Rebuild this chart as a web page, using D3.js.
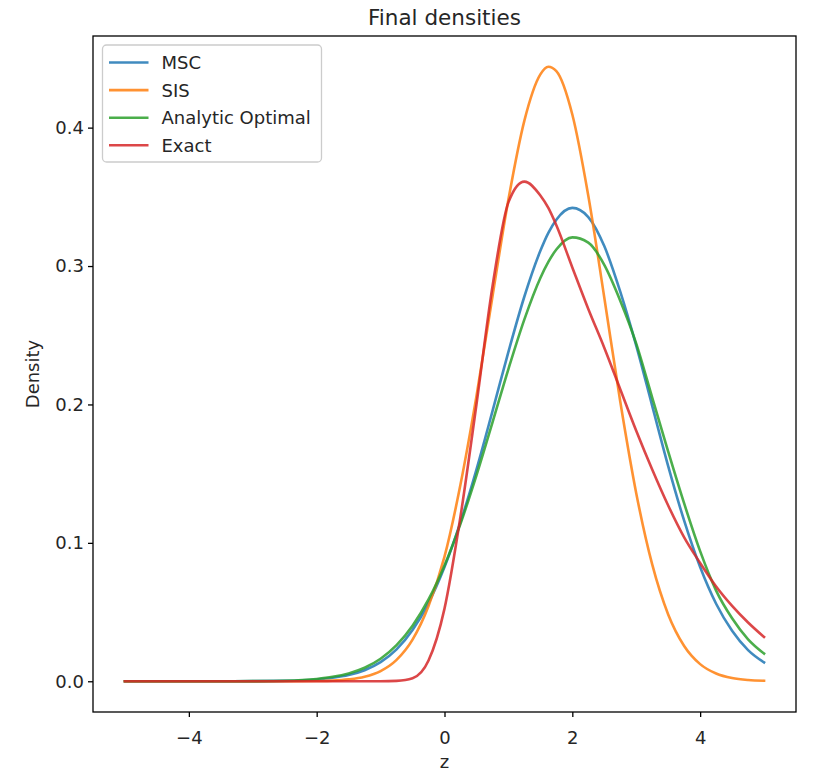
<!DOCTYPE html>
<html>
<head>
<meta charset="utf-8">
<script src="https://cdn.jsdelivr.net/npm/d3@7/dist/d3.min.js"></script>
<style>
  html, body { margin: 0; padding: 0; background: #ffffff; }
  svg { display: block; font-family: "DejaVu Sans", sans-serif; }
</style>
</head>
<body>
<svg id="chart" width="813" height="773"></svg>
<script>
// Evaluation grid (z) shared by every density curve
const zGrid = [-5, -4.5, -4, -3.5, -3, -2.5, -2, -1.75, -1.5, -1.25, -1, -0.75, -0.5, -0.25,
  0, 0.25, 0.5, 0.75, 1, 1.25, 1.5, 1.625, 1.75, 2, 2.25, 2.5, 2.75, 3, 3.25, 3.5, 3.75,
  4, 4.25, 4.5, 4.75, 5];

const mscDensity = [0, 0, 0, 0, 0.0001, 0.0003, 0.0013, 0.0025, 0.0045, 0.0080, 0.0138, 0.0230, 0.0370, 0.0565,
  0.0825, 0.1150, 0.1530, 0.1950, 0.2380, 0.2780, 0.3110, 0.3240, 0.3335, 0.3420, 0.3354, 0.3144, 0.2815,
  0.2425, 0.1990, 0.1555, 0.1160, 0.0825, 0.0560, 0.0365, 0.0225, 0.0136];

const sisDensity = [0, 0, 0, 0, 0, 0, 0.0002, 0.0005, 0.0014, 0.0033, 0.0074, 0.0155, 0.0301, 0.0544,
  0.0900, 0.1421, 0.2060, 0.2778, 0.3480, 0.4051, 0.4385, 0.4440, 0.4409, 0.4095, 0.3508, 0.2773, 0.2021,
  0.1359, 0.0844, 0.0483, 0.0255, 0.0124, 0.0056, 0.0023, 0.0009, 0.0004];

const optimalDensity = [0, 0, 0, 0, 0.0001, 0.0004, 0.0017, 0.0032, 0.0057, 0.0098, 0.0163, 0.0261, 0.0401, 0.0591,
  0.0837, 0.1138, 0.1488, 0.1869, 0.2256, 0.2615, 0.2914, 0.3030, 0.3119, 0.3207, 0.3169, 0.3009, 0.2750,
  0.2440, 0.2050, 0.1660, 0.1285, 0.0940, 0.0655, 0.0455, 0.0303, 0.0200];

const exactDensity = [0, 0, 0, 0, 0, 0, 0, 0, 0, 0, 0, 0.0003, 0.0022, 0.0150,
  0.0525, 0.1190, 0.2000, 0.2850, 0.3460, 0.3610, 0.3510, 0.3420, 0.3295, 0.2990, 0.2690, 0.2410, 0.2110,
  0.1810, 0.1530, 0.1270, 0.1040, 0.0855, 0.0685, 0.0545, 0.0425, 0.0320];

const seriesNames = ["MSC", "SIS", "Analytic Optimal", "Exact"];
const seriesColors = ["#1f77b4", "#ff7f0e", "#2ca02c", "#d62728"];
const seriesValues = [mscDensity, sisDensity, optimalDensity, exactDensity];

const xTicks = [-4, -2, 0, 2, 4];
const yTicks = [0.0, 0.1, 0.2, 0.3, 0.4];

// ---- layout ----
const svg = d3.select("#chart");
const W = 813, H = 773;
const plot = { left: 93, right: 796, top: 36, bottom: 712 };
const fontSize = 18;
const tickLen = 5;
const spineW = 1.3;

svg.append("rect").attr("width", W).attr("height", H).attr("fill", "#ffffff");

// axis limits with 5% padding on each side
const xExt = d3.extent(zGrid);
const xPad = (xExt[1] - xExt[0]) * 0.05;
const yMin = d3.min(seriesValues, s => d3.min(s));
const yMax = d3.max(seriesValues, s => d3.max(s));
const yPad = (yMax - yMin) * 0.05;

const x = d3.scaleLinear().domain([xExt[0] - xPad, xExt[1] + xPad]).range([plot.left, plot.right]);
const y = d3.scaleLinear().domain([yMin - yPad, yMax + yPad]).range([plot.bottom, plot.top]);

// curves
const line = d3.line()
  .x(d => x(d[0]))
  .y(d => y(d[1]))
  .curve(d3.curveMonotoneX);

const curves = svg.append("g");
seriesValues.forEach((vals, i) => {
  curves.append("path")
    .datum(zGrid.map((z, j) => [z, vals[j]]))
    .attr("fill", "none")
    .attr("stroke", seriesColors[i])
    .attr("stroke-opacity", 0.85)
    .attr("stroke-width", 2.6)
    .attr("stroke-linejoin", "round")
    .attr("stroke-linecap", "square")
    .attr("d", line);
});

// axes
const fmtX = d => (d < 0 ? "\u2212" + Math.abs(d) : String(d));
const xAxis = svg.append("g")
  .attr("transform", `translate(0,${plot.bottom})`)
  .call(d3.axisBottom(x).tickValues(xTicks).tickFormat(fmtX).tickSize(tickLen).tickPadding(14));
const yAxis = svg.append("g")
  .attr("transform", `translate(${plot.left},0)`)
  .call(d3.axisLeft(y).tickValues(yTicks).tickFormat(d3.format(".1f")).tickSize(tickLen).tickPadding(4));

[xAxis, yAxis].forEach(g => {
  g.select(".domain").remove();
  g.selectAll(".tick line").attr("stroke", "#000").attr("stroke-width", spineW);
  g.selectAll(".tick text")
    .attr("fill", "#262626")
    .style("font-family", "DejaVu Sans")
    .style("font-size", fontSize + "px");
});

// frame
svg.append("rect")
  .attr("x", plot.left).attr("y", plot.top)
  .attr("width", plot.right - plot.left).attr("height", plot.bottom - plot.top)
  .attr("fill", "none").attr("stroke", "#000").attr("stroke-width", spineW);

// title and axis labels
svg.append("text")
  .attr("x", (plot.left + plot.right) / 2).attr("y", 25)
  .attr("text-anchor", "middle")
  .attr("fill", "#262626")
  .style("font-size", "21.5px")
  .text("Final densities");

svg.append("text")
  .attr("x", (plot.left + plot.right) / 2).attr("y", 768)
  .attr("text-anchor", "middle")
  .attr("fill", "#262626")
  .style("font-size", fontSize + "px")
  .text("z");

svg.append("text")
  .attr("transform", `translate(39,${(plot.top + plot.bottom) / 2}) rotate(-90)`)
  .attr("text-anchor", "middle")
  .attr("fill", "#262626")
  .style("font-size", fontSize + "px")
  .text("Density");

// legend
const legend = svg.append("g");
const lg = { x: 102.5, y: 45, w: 219, h: 117, row0: 62.5, pitch: 27.6 };
legend.append("rect")
  .attr("x", lg.x).attr("y", lg.y).attr("width", lg.w).attr("height", lg.h)
  .attr("rx", 4).attr("ry", 4)
  .attr("fill", "#ffffff").attr("fill-opacity", 0.8)
  .attr("stroke", "#cccccc").attr("stroke-width", 1.3);

seriesNames.forEach((name, i) => {
  const cy = lg.row0 + i * lg.pitch;
  legend.append("line")
    .attr("x1", lg.x + 6.5).attr("x2", lg.x + 46)
    .attr("y1", cy).attr("y2", cy)
    .attr("stroke", seriesColors[i])
    .attr("stroke-opacity", 0.85)
    .attr("stroke-width", 2.6);
  legend.append("text")
    .attr("x", lg.x + 59).attr("y", cy)
    .attr("dy", "0.36em")
    .attr("fill", "#262626")
    .style("font-size", fontSize + "px")
    .text(name);
});
</script>
</body>
</html>
